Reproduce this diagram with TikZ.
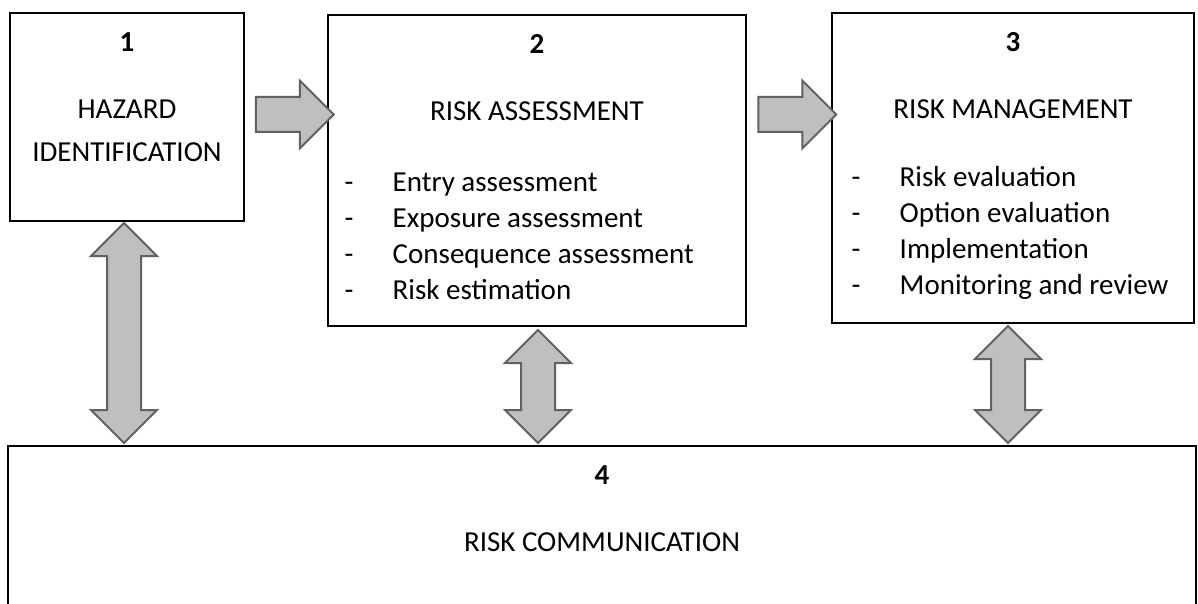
\documentclass[tikz,border=0pt]{standalone}
\usepackage{fontspec}
\setmainfont{Carlito}
\usetikzlibrary{positioning,calc,shapes.arrows}

\begin{document}
\begin{tikzpicture}[
  x=0.5pt, y=-0.5pt,
  font=\fontsize{14.5pt}{18pt}\selectfont,
  stage/.style={rectangle, draw, line width=0.7pt, inner sep=0pt},
  number/.style={font=\fontsize{14.5pt}{18pt}\selectfont\bfseries, inner sep=0pt},
  heading/.style={align=center, inner sep=0pt},
  items/.style={anchor=base west, inner sep=0pt},
  flow/.style={single arrow, draw=black!62, fill=black!25, line width=1pt,
    minimum height=39pt, inner xsep=0pt, inner ysep=8.25pt,
    single arrow head extend=8.25pt, single arrow tip angle=90},
  exchange/.style={double arrow, rotate=90, draw=black!62, fill=black!25, line width=1pt,
    inner xsep=0pt, inner ysep=8pt,
    double arrow head extend=8pt, double arrow tip angle=90}
]
\useasboundingbox (0,0) rectangle (1198,604);
\clip (0,0) rectangle (1198,604);

% boxes
\node[stage, minimum width=117pt, minimum height=104pt] (haz) at (127,117) {};
\node[stage, minimum width=209pt, minimum height=155.5pt] (assess) at (537,170.5) {};
\node[stage, minimum width=181pt, minimum height=155pt] (mgmt) at (1013,168) {};
\node[stage, minimum width=594pt, minimum height=127pt] (comm) at (602,573) {};

% 1 - hazard identification
\node[number] (n1) at ($(haz.north)+(0,30)$) {1};
\node[heading] (t1) at (127,130.5) {HAZARD\\[3.5pt]IDENTIFICATION};

% 2 - risk assessment
\node[number] (n2) at ($(assess.north)+(0,30)$) {2};
\node[heading] (t2) at ($(assess.north)+(0,97)$) {RISK ASSESSMENT};
\node[items] (l2) at ($(assess.north west)+(17,177)$) {\begin{tabular}[t]{@{}p{24pt}@{}l@{}}
  - & Entry assessment\\
  - & Exposure assessment\\
  - & Consequence assessment\\
  - & Risk estimation
\end{tabular}};

% 3 - risk management
\node[number] (n3) at ($(mgmt.north)+(0,30)$) {3};
\node[heading] (t3) at ($(mgmt.north)+(0,97)$) {RISK MANAGEMENT};
\node[items] (l3) at ($(mgmt.north west)+(20,174)$) {\begin{tabular}[t]{@{}p{24pt}@{}l@{}}
  - & Risk evaluation\\
  - & Option evaluation\\
  - & Implementation\\
  - & Monitoring and review
\end{tabular}};

% 4 - risk communication
\node[number] (n4) at ($(comm.north)+(0,30)$) {4};
\node[heading] (t4) at ($(comm.north)+(0,97)$) {RISK COMMUNICATION};

% block arrows
\node[flow] (a12) at (286,114.5) {};
\node[flow] (a23) at (788.5,114.5) {};
\node[exchange, minimum height=110pt] (e14) at (124,333) {};
\node[exchange, minimum height=56.5pt] (e24) at (538,386.5) {};
\node[exchange, minimum height=58.5pt] (e34) at (1008,384.5) {};

\end{tikzpicture}
\end{document}
